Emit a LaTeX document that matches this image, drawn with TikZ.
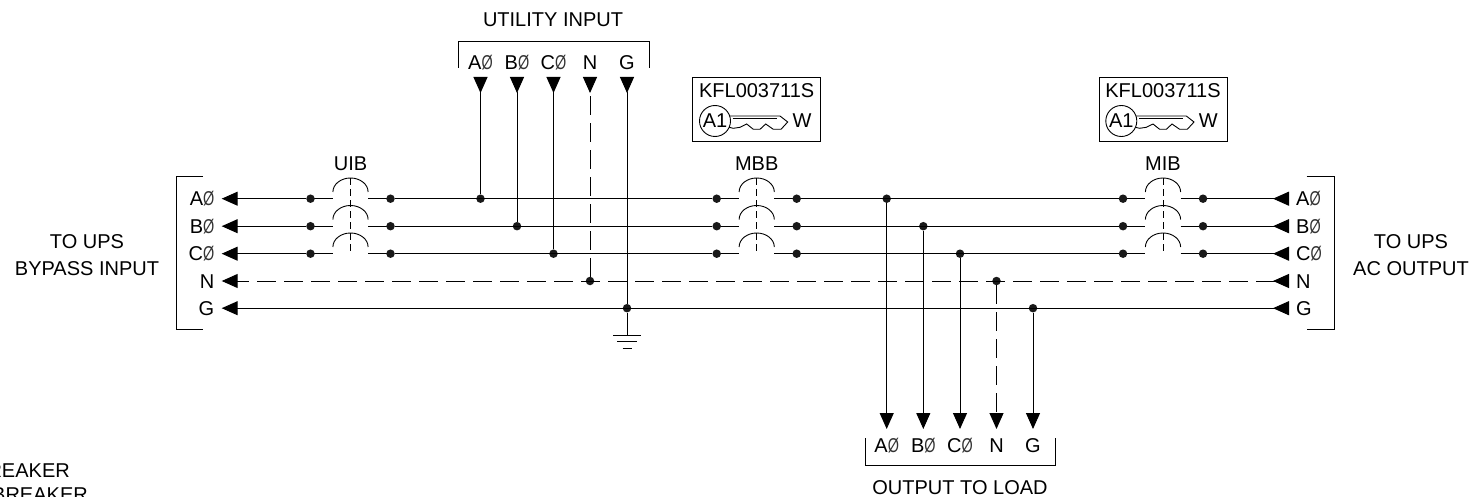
\documentclass[tikz,border=0pt]{standalone}
\usepackage{fontspec}
\setmainfont{Liberation Sans}
\usetikzlibrary{arrows.meta}
\newcommand{\myslash}{\scalebox{0.72}[1]{\color{black!80}Ø}}
\tikzset{
  x=1pt, y=1pt,
  mytext/.style = {font=\fontsize{20}{27.5}\selectfont, align=center, inner sep=0pt},
  myterm/.style = {font=\fontsize{20}{24}\selectfont, text height=14.3pt, text depth=0pt},
  myleft/.style = {myterm, anchor=east, inner xsep=7.2pt, inner ysep=0pt},
  myright/.style = {myterm, anchor=west, inner xsep=7pt, inner ysep=0pt},
  myup/.style = {myterm, anchor=south, inner xsep=0pt, inner ysep=7pt},
  mydown/.style = {myterm, anchor=north, inner xsep=0pt, inner ysep=8.7pt},
  mydot/.style = {circle, fill=black!90, inner sep=0pt, minimum size=8.5pt},
  mythin/.style = {line width=0.9pt},
  mywire/.style = {line width=1pt},
  myneutral/.style = {dash pattern=on 19pt off 8pt},
  myarrow/.style = {-{Triangle[length=16pt, width=14pt]}, line width=1pt},
  mybackarrow/.style = {-{Triangle[reversed, length=16pt, width=14pt]}, line width=1pt},
  mybotharrow/.style = {{Triangle[reversed, length=16pt, width=14pt]}-{Triangle[length=16pt, width=14pt]}, line width=1pt},
  mypole/.pic = {
    \draw[mythin] (-17.6,6.7) arc[start angle=180, end angle=0, x radius=17.6, y radius=14];
    \draw[mywire] (-40,0) -- (-17.6,0) (17.6,0) -- (40,0);
  },
  mybreaker/.pic = {
    \pic at (0,0) {mypole};
    \pic at (0,-27.5) {mypole};
    \pic at (0,-55) {mypole};
    \draw[mythin, dash pattern=on 7pt off 4pt] (0,20.7) -- (0,-53);
    \node[mydot] (aw) at (-40,0) {};
    \node[mydot] (ae) at (40,0) {};
    \node[mydot] (bw) at (-40,-27.5) {};
    \node[mydot] (be) at (40,-27.5) {};
    \node[mydot] (cw) at (-40,-55) {};
    \node[mydot] (ce) at (40,-55) {};
  },
  mykey/.pic = {
    \node[draw, mythin, minimum width=128pt, minimum height=64pt, inner sep=0pt] (box) at (0,0) {};
    \node[font=\fontsize{20}{24}\selectfont, inner sep=0pt] (code) at (0,18.6) {KFL003711S};
    \node[circle, draw, mythin, minimum size=31pt, inner sep=0pt, font=\fontsize{20}{24}\selectfont] (bow) at (-41.7,-11.7) {A1};
    \node[font=\fontsize{20}{24}\selectfont, inner sep=0pt] (side) at (45.3,-11.7) {W};
    \draw[mythin] (-27,-6.7) -- (23.3,-6.7) -- (31,-12.7) -- (24.3,-20) -- (16.6,-20)
      -- (9,-14.7) -- (3.3,-20) -- (-3.4,-20) -- (-10,-14.7) -- (-16.7,-18) -- (-23.4,-19) -- (-27.5,-18);
    \draw[mythin] (-24,-9) -- (20.3,-9);
  },
}

\begin{document}
\begin{tikzpicture}
\useasboundingbox (0,0) rectangle (1471,-497);

% breakers and keys
\pic (uib) at (350.5,-198.7) {mybreaker};
\pic (mbb) at (756.7,-198.7) {mybreaker};
\pic (mib) at (1163,-198.7) {mybreaker};
\node[mytext] (uibname) at (350.5,-164) {UIB};
\node[mytext] (mbbname) at (756.7,-164) {MBB};
\node[mytext] (mibname) at (1163,-164) {MIB};
\pic (mbbkey) at (756.7,-109.3) {mykey};
\pic (mibkey) at (1163,-109.3) {mykey};

% bypass side
\node[myleft] (la) at (221.7,-198.7) {A\myslash};
\node[myleft] (lb) at (221.7,-226.2) {B\myslash};
\node[myleft] (lc) at (221.7,-253.7) {C\myslash};
\node[myleft] (ln) at (221.7,-281) {N};
\node[myleft] (lg) at (221.7,-308.2) {G};
\node[mytext] (bypass) at (87,-255) {TO UPS\\BYPASS INPUT};
\draw[mythin] (203,-176.7) -| (176,-329.3) -- (203,-329.3);

% ac output side
\node[myright] (ra) at (1289,-198.7) {A\myslash};
\node[myright] (rb) at (1289,-226.2) {B\myslash};
\node[myright] (rc) at (1289,-253.7) {C\myslash};
\node[myright] (rn) at (1289,-281) {N};
\node[myright] (rg) at (1289,-308.2) {G};
\node[mytext] (acout) at (1411,-255) {TO UPS\\AC OUTPUT};
\draw[mythin] (1306.7,-176.7) -| (1334,-329.3) -- (1306.7,-329.3);

% utility input
\node[myup] (ua) at (480.5,-77) {A\myslash};
\node[myup] (ub) at (517,-77) {B\myslash};
\node[myup] (uc) at (553.5,-77) {C\myslash};
\node[myup] (un) at (590,-77) {N};
\node[myup] (ug) at (627,-77) {G};
\node[mytext] (utility) at (553,-19.5) {UTILITY INPUT};
\draw[mythin] (458,-68) |- (649,-41.5) -- (649,-68);

% output to load
\node[mydown] (oa) at (886.7,-429) {A\myslash};
\node[mydown] (ob) at (923.3,-429) {B\myslash};
\node[mydown] (oc) at (960,-429) {C\myslash};
\node[mydown] (on) at (996.5,-429) {N};
\node[mydown] (og) at (1033,-429) {G};
\node[mytext] (load) at (960,-488) {OUTPUT TO LOAD};
\draw[mythin] (865,-438) |- (1055,-465.7) -- (1055,-438);

% junctions
\node[mydot] (ja) at (480.5,-198.7) {};
\node[mydot] (jb) at (517,-226.2) {};
\node[mydot] (jc) at (553.5,-253.7) {};
\node[mydot] (jn) at (590,-281) {};
\node[mydot] (jg) at (627,-308.2) {};
\node[mydot] (ka) at (886.7,-198.7) {};
\node[mydot] (kb) at (923.3,-226.2) {};
\node[mydot] (kc) at (960,-253.7) {};
\node[mydot] (kn) at (996.5,-281) {};
\node[mydot] (kg) at (1033,-308.2) {};

% phase wires
\draw[myarrow] (uibaw) -- (la);
\draw[myarrow] (uibbw) -- (lb);
\draw[myarrow] (uibcw) -- (lc);
\draw[mywire] (uibae) -- (mbbaw);
\draw[mywire] (uibbe) -- (mbbbw);
\draw[mywire] (uibce) -- (mbbcw);
\draw[mywire] (mbbae) -- (mibaw);
\draw[mywire] (mbbbe) -- (mibbw);
\draw[mywire] (mbbce) -- (mibcw);
\draw[mybackarrow] (mibae) -- (ra);
\draw[mybackarrow] (mibbe) -- (rb);
\draw[mybackarrow] (mibce) -- (rc);

% neutral and ground
\draw[mybotharrow, myneutral] (rn) -- (ln);
\draw[mybotharrow] (rg) -- (lg);

% drops
\draw[mybackarrow] (ja) -- (ua);
\draw[mybackarrow] (jb) -- (ub);
\draw[mybackarrow] (jc) -- (uc);
\draw[mybackarrow, myneutral] (jn) -- (un);
\draw[mybackarrow] (jg) -- (ug);
\draw[myarrow] (ka) -- (oa);
\draw[myarrow] (kb) -- (ob);
\draw[myarrow] (kc) -- (oc);
\draw[myarrow, myneutral] (kn) -- (on);
\draw[myarrow] (kg) -- (og);

% ground symbol
\coordinate (gnd) at (627,-335.7);
\draw[mywire] (jg) -- (gnd);
\draw[mythin] ([xshift=-14pt]gnd) -- ([xshift=14pt]gnd);
\draw[mythin] ([xshift=-10pt, yshift=-6pt]gnd) -- ([xshift=10pt, yshift=-6pt]gnd);
\draw[mythin] ([xshift=-4.5pt, yshift=-12.3pt]gnd) -- ([xshift=4.5pt, yshift=-12.3pt]gnd);

% cut off at the page edge
\node[mytext, anchor=east] (cuta) at (70,-471) {REAKER};
\node[mytext, anchor=east] (cutb) at (88,-495) {BREAKER};
\end{tikzpicture}
\end{document}
